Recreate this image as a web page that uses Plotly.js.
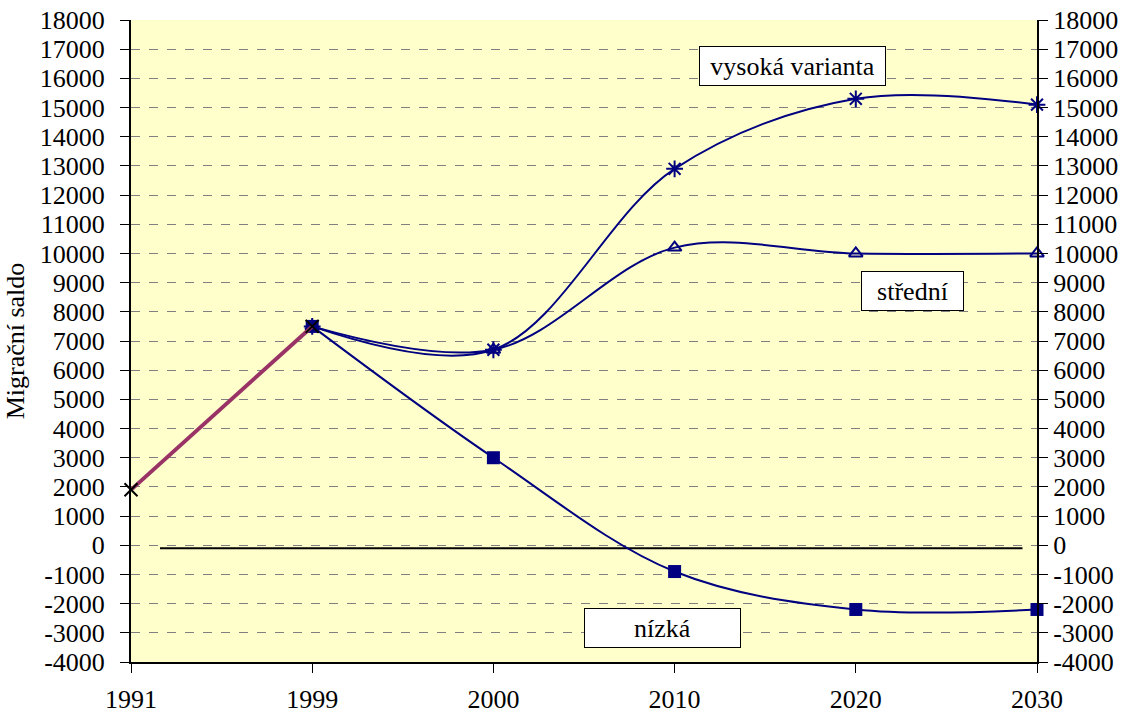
<!DOCTYPE html>
<html><head><meta charset="utf-8">
<script src="https://cdn.plot.ly/plotly-3.0.1.min.js"></script>
<style>body{margin:0;background:#fff}#c{width:1125px;height:715px}</style>
</head><body><div id="c"></div>
<script>
const years = ['1991','1999','2000','2010','2020','2030'];
const histYears = ['1991','1999'];
const histVals = [1900, 7500];
const projYears = ['1999','2000','2010','2020','2030'];
const highVals = [7500, 6700, 12900, 15300, 15100];
const midVals = [7500, 6700, 10200, 10000, 10000];
const lowVals = [7500, 3000, -900, -2200, -2200];
const zeroLineX = [0.16, 4.92];
const zeroLineY = [-100, -100];
const yTicks = [];
for (let v = -4000; v <= 18000; v += 1000) yTicks.push(v);

const idx = a => a.map(y => years.indexOf(y));
const navy = '#000080';
const font = '"Liberation Serif", "Times New Roman", serif';
const tf = () => ({family: font, size: 26, color: '#000'});

const traces = [
  {x: zeroLineX, y: zeroLineY, mode: 'lines', line: {color: '#000', width: 2}, hoverinfo: 'skip'},
  {x: idx(projYears), y: highVals, mode: 'lines+markers', cliponaxis: false, line: {color: navy, width: 2, shape: 'spline', smoothing: 1},
   marker: {symbol: 'asterisk-open', size: 14, color: navy, line: {color: navy, width: 2}}},
  {x: idx(projYears), y: midVals, mode: 'lines+markers', cliponaxis: false, line: {color: navy, width: 2, shape: 'spline', smoothing: 1},
   marker: {symbol: 'triangle-up-open', size: 12, color: navy, line: {color: navy, width: 2}}},
  {x: idx(projYears), y: lowVals, mode: 'lines+markers', cliponaxis: false, line: {color: navy, width: 2, shape: 'spline', smoothing: 1},
   marker: {symbol: 'square', size: 13, color: navy}},
  {x: idx(histYears), y: histVals, mode: 'lines+markers', cliponaxis: false, line: {color: '#993366', width: 4},
   marker: {symbol: 'x-thin-open', size: 13, color: '#000', line: {color: '#000', width: 2}}},
  {x: [0], y: [0], yaxis: 'y2', mode: 'markers', marker: {opacity: 0}, hoverinfo: 'skip'}
];

const yax = () => ({
  range: [-4000, 18000], tickvals: yTicks, ticktext: yTicks.map(String),
  showline: true, linecolor: '#000', linewidth: 2, ticks: 'outside', ticklen: 9, tickcolor: '#000', tickwidth: 1,
  tickfont: tf(), zeroline: false
});

const layout = {
  width: 1125, height: 715,
  margin: {l: 131, r: 88, t: 20, b: 53},
  paper_bgcolor: '#fff', plot_bgcolor: '#FFFFCC',
  showlegend: false,
  font: {family: font, size: 26, color: '#000'},
  xaxis: {
    range: [0, 5], tickvals: [0,1,2,3,4,5], ticktext: years,
    showline: true, linecolor: '#000', linewidth: 2, ticks: 'outside', ticklen: 9, tickcolor: '#000',
    tickfont: tf(), showgrid: false, zeroline: false, ticklabelstandoff: 4
  },
  yaxis: Object.assign(yax(), {
    showgrid: true, gridcolor: '#808080', griddash: 'dash', gridwidth: 1, ticklabelstandoff: 10,
    title: {text: 'Migrační saldo', font: tf(), standoff: 8}
  }),
  yaxis2: Object.assign(yax(), {overlaying: 'y', side: 'right', showgrid: false}),
  annotations: [
    {text: 'vysoká varianta', x: 792, y: 66},
    {text: 'střední', x: 912, y: 291},
    {text: 'nízká', x: 662, y: 628}
  ].map(a => ({
    text: a.text, xref: 'paper', yref: 'paper',
    x: (a.x - 131) / 906, y: 1 - (a.y - 20) / 642, xanchor: 'center', yanchor: 'middle',
    showarrow: false, bgcolor: '#fff', bordercolor: '#000', borderwidth: 1,
    font: tf(),
    width: a.text === 'vysoká varianta' ? 183 : (a.text === 'střední' ? 99 : 153), height: 36
  }))
};

Plotly.newPlot('c', traces, layout, {staticPlot: true});
</script></body></html>
